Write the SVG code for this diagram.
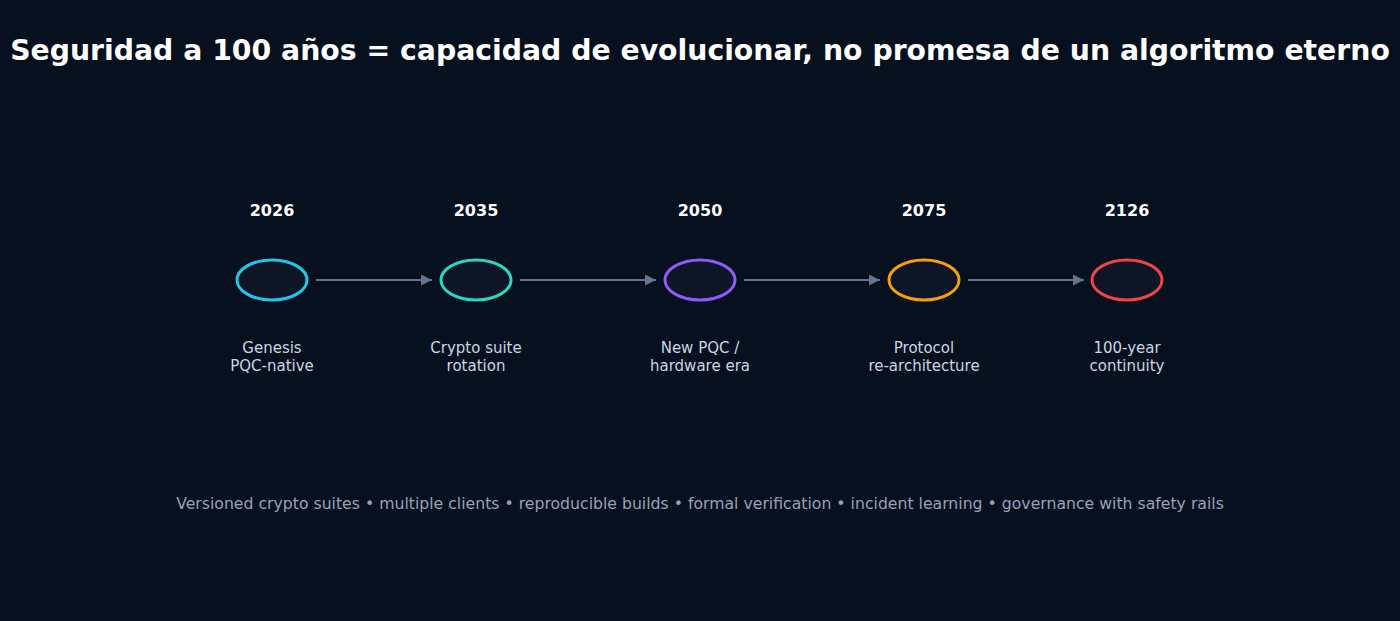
<svg xmlns="http://www.w3.org/2000/svg" width="1400" height="621" viewBox="0 0 1400 621">
<defs>
<marker id="arr" viewBox="0 0 10 10" refX="10" refY="5" markerWidth="11" markerHeight="11" markerUnits="userSpaceOnUse" orient="auto">
<path d="M0,0 L10,5 L0,10 Z" fill="#64748b"/>
</marker>
</defs>
<style>
text{font-family:"DejaVu Sans","Liberation Sans",sans-serif;text-anchor:middle}
.title{font-size:28.3px;font-weight:bold;fill:#ffffff}
.year{font-size:16px;font-weight:bold;fill:#ffffff}
.lbl{font-size:15px;fill:#cbd5e1}
.foot{font-size:15.7px;fill:#94a3b8}
.node ellipse{fill:#0d1526;stroke-width:3}
.conn line{stroke:#64748b;stroke-width:2}
</style>
<rect width="1400" height="621" fill="#07101f"/>
<text class="title" x="700" y="60">Seguridad a 100 años = capacidad de evolucionar, no promesa de un algoritmo eterno</text>
<g id="connectors" class="conn">
<line x1="316" y1="280" x2="432" y2="280" marker-end="url(#arr)"/>
<line x1="520" y1="280" x2="656" y2="280" marker-end="url(#arr)"/>
<line x1="744" y1="280" x2="880" y2="280" marker-end="url(#arr)"/>
<line x1="968" y1="280" x2="1084" y2="280" marker-end="url(#arr)"/>
</g>
<g id="n2026" class="node">
<text class="year" x="272" y="216">2026</text>
<ellipse cx="272" cy="280" rx="35" ry="20" stroke="#22c5ee"/>
<text class="lbl" x="272" y="353">Genesis</text>
<text class="lbl" x="272" y="371">PQC-native</text>
</g>
<g id="n2035" class="node">
<text class="year" x="476" y="216">2035</text>
<ellipse cx="476" cy="280" rx="35" ry="20" stroke="#2dd4bf"/>
<text class="lbl" x="476" y="353">Crypto suite</text>
<text class="lbl" x="476" y="371">rotation</text>
</g>
<g id="n2050" class="node">
<text class="year" x="700" y="216">2050</text>
<ellipse cx="700" cy="280" rx="35" ry="20" stroke="#8b5cf6"/>
<text class="lbl" x="700" y="353">New PQC /</text>
<text class="lbl" x="700" y="371">hardware era</text>
</g>
<g id="n2075" class="node">
<text class="year" x="924" y="216">2075</text>
<ellipse cx="924" cy="280" rx="35" ry="20" stroke="#f59e0b"/>
<text class="lbl" x="924" y="353">Protocol</text>
<text class="lbl" x="924" y="371">re-architecture</text>
</g>
<g id="n2126" class="node">
<text class="year" x="1127" y="216">2126</text>
<ellipse cx="1127" cy="280" rx="35" ry="20" stroke="#ef4444"/>
<text class="lbl" x="1127" y="353">100-year</text>
<text class="lbl" x="1127" y="371">continuity</text>
</g>
<text class="foot" x="700" y="509">Versioned crypto suites • multiple clients • reproducible builds • formal verification • incident learning • governance with safety rails</text>
</svg>
